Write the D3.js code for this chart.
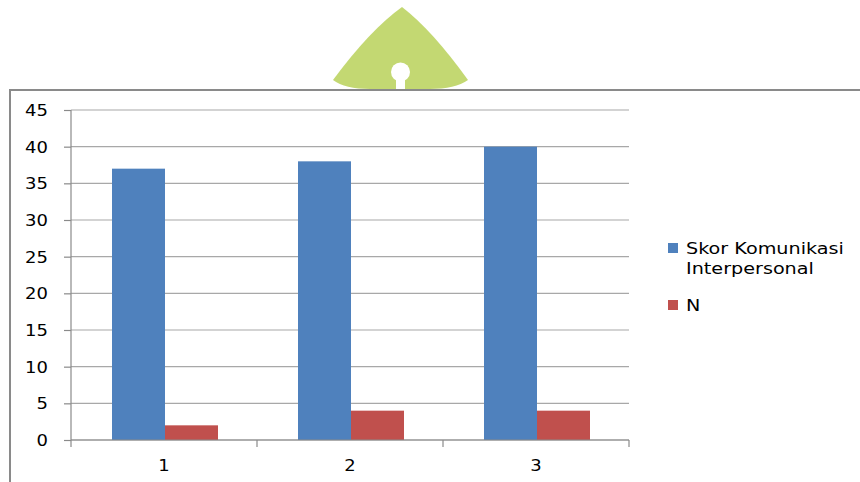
<!DOCTYPE html>
<html><head><meta charset="utf-8">
<script src="https://cdn.jsdelivr.net/npm/d3@7/dist/d3.min.js"></script>
<style>html,body{margin:0;padding:0;background:#fff;overflow:hidden}</style>
</head><body>
<script>
const categories = ["1", "2", "3"];
const seriesNames = ["Skor Komunikasi Interpersonal", "N"];
const skorValues = [37, 38, 40];
const nValues = [2, 4, 4];
const yTicks = [0, 5, 10, 15, 20, 25, 30, 35, 40, 45];
const colors = ["#4F81BD", "#C0504D"];

(function () {
const W = 860, H = 482;
const svg = d3.select("body").append("svg").attr("width", W).attr("height", H);

// decorative green emblem
const g0 = svg.append("g");
const emblem = "M402,7 Q370,30 333,80 Q345,89 370,89 L430,89 Q455,89 468,80 Q432,30 402,7 Z";
g0.append("path").attr("d", emblem).attr("fill", "#C3D872");
g0.append("circle").attr("cx", 400.5).attr("cy", 72).attr("r", 9.5).attr("fill", "#fff");
g0.append("rect").attr("x", 396).attr("y", 72).attr("width", 9).attr("height", 18).attr("fill", "#fff");

// frame
svg.append("path").attr("d", "M10,482 L10,90 L860,90").attr("fill", "none")
  .attr("stroke", "#8a8a8a").attr("stroke-width", 2);

const pLeft = 71, pRight = 629, pTop = 110, pBottom = 440;
const x = d3.scaleBand().domain(categories).range([pLeft, pRight]).paddingInner(0).paddingOuter(0);
const x1 = d3.scaleBand().domain(seriesNames).range([41, x.bandwidth() - 39]);
const y = d3.scaleLinear().domain([0, 45]).range([pBottom, pTop]);

const fontFam = "'DejaVu Sans', Verdana, sans-serif";

// gridlines
svg.append("g").selectAll("line").data(yTicks).join("line")
  .attr("x1", pLeft).attr("x2", pRight)
  .attr("y1", d => y(d)).attr("y2", d => y(d))
  .attr("stroke", "#a8a8a8").attr("stroke-width", 1.2);

// y axis
const yAxis = svg.append("g").attr("transform", `translate(${pLeft},0)`)
  .call(d3.axisLeft(y).tickValues(yTicks).tickSize(7).tickPadding(0));
yAxis.select(".domain").attr("stroke", "#8a8a8a").attr("stroke-width", 1.2)
  .attr("d", `M0,${pTop}V${pBottom + 7}`);
yAxis.selectAll(".tick line").attr("stroke", "#8a8a8a").attr("stroke-width", 1.2);
yAxis.selectAll(".tick text").attr("font-family", fontFam).attr("font-size", 15)
  .attr("fill", "#000").attr("x", 0)
  .attr("transform", "translate(-23,0) scale(1.2,1)").attr("text-anchor", "end").attr("dy", "0.36em");

// bars
const data = categories.map((c, i) => ({ c, vals: [skorValues[i], nValues[i]] }));
const grp = svg.append("g").selectAll("g").data(data).join("g")
  .attr("transform", d => `translate(${x(d.c)},0)`);
grp.selectAll("rect").data(d => d.vals.map((v, k) => ({ v, k }))).join("rect")
  .attr("x", d => x1(seriesNames[d.k]))
  .attr("width", x1.bandwidth())
  .attr("y", d => y(d.v))
  .attr("height", d => y(0) - y(d.v))
  .attr("fill", d => colors[d.k]);

// x axis
const xAxis = svg.append("g").attr("transform", `translate(0,${pBottom})`)
  .call(d3.axisBottom(x).tickSize(0).tickPadding(0));
xAxis.select(".domain").attr("stroke", "#8a8a8a").attr("stroke-width", 1.2).attr("d", `M${pLeft},0H${pRight}`);
xAxis.selectAll(".tick text").attr("font-family", fontFam).attr("font-size", 15).attr("fill", "#000")
  .attr("y", 0).attr("dy", 0)
  .attr("transform", "translate(0,31) scale(1.2,1)");
// category boundary ticks
const bounds = categories.slice(1).map(c => x(c)).concat([pRight]);
svg.append("g").selectAll("line").data(bounds).join("line")
  .attr("x1", d => d).attr("x2", d => d)
  .attr("y1", pBottom).attr("y2", pBottom + 7)
  .attr("stroke", "#8a8a8a").attr("stroke-width", 1.2);

// legend
const lg = svg.append("g");
const legendItems = [
  { lines: ["Skor Komunikasi", "Interpersonal"], color: colors[0], y: 248 },
  { lines: ["N"], color: colors[1], y: 305 }
];
legendItems.forEach(it => {
  lg.append("rect").attr("x", 668).attr("y", it.y - 5).attr("width", 10).attr("height", 10).attr("fill", it.color);
  const t = lg.append("text").attr("font-family", fontFam).attr("font-size", 16).attr("fill", "#000")
    .attr("transform", `translate(686,${it.y + 6}) scale(1.2,1)`);
  it.lines.forEach((l, i) => t.append("tspan").attr("x", 0).attr("dy", i === 0 ? 0 : 20).text(l));
});
})();
</script>
</body></html>
